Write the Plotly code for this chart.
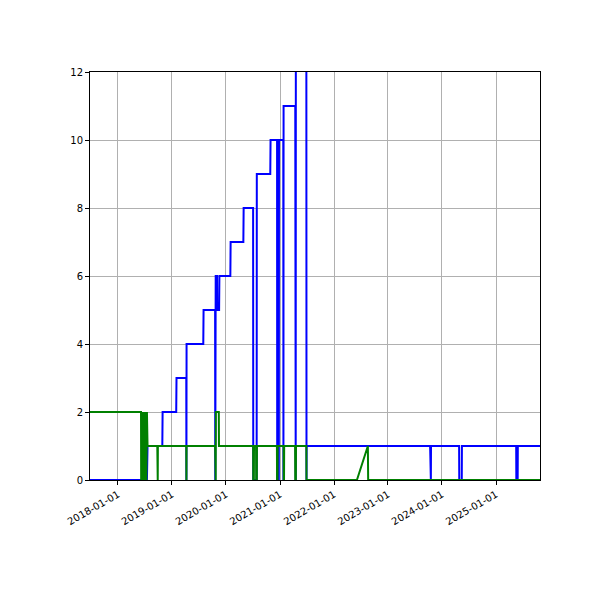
import plotly.graph_objects as go

blue_dates = ["2017-06-26","2018-07-16","2018-07-20","2018-10-28","2018-10-30","2019-01-30","2019-02-01",
 "2019-04-08","2019-04-09","2019-04-10","2019-08-01","2019-08-03","2019-10-20","2019-10-21","2019-10-24",
 "2019-11-02","2019-11-03","2019-11-16","2019-11-18","2020-01-31","2020-02-02","2020-04-28","2020-04-30",
 "2020-07-03","2020-07-04","2020-07-27","2020-07-28","2020-10-27","2020-10-29","2020-12-12","2020-12-13",
 "2020-12-24","2020-12-25","2021-01-23","2021-01-24","2021-01-25","2021-04-14","2021-04-15","2021-04-17",
 "2021-04-18","2021-06-28","2021-06-29","2021-06-30","2023-10-13","2023-10-14","2023-10-18","2023-10-19",
 "2024-04-26","2024-04-27","2024-05-14","2024-05-15","2025-05-17","2025-05-18","2025-05-27","2025-05-28","2025-10-25"]
blue_vals = [0,0,1,1,2,2,3,
 3,0,4,4,5,5,0,6,
 6,5,5,6,6,7,7,8,
 8,0,0,9,9,10,10,0,
 0,10,10,0,11,11,0,0,
 13,13,0,1,1,0,0,1,
 1,0,0,1,1,0,0,1,1]

green_dates = ["2017-06-26","2018-06-06","2018-06-07","2018-06-10","2018-06-12","2018-06-16","2018-06-18",
 "2018-06-22","2018-06-24","2018-06-28","2018-06-30","2018-07-04","2018-07-06","2018-07-10","2018-07-12",
 "2018-07-16","2018-07-20","2018-09-24","2018-09-25","2018-09-27","2018-09-28","2019-04-08","2019-04-09",
 "2019-04-10","2019-10-20","2019-10-21","2019-10-24","2019-10-25","2019-11-14","2019-11-15","2020-07-03",
 "2020-07-04","2020-07-08","2020-07-09","2020-07-23","2020-07-24","2020-07-28","2020-07-29","2020-12-11",
 "2020-12-12","2020-12-15","2020-12-16","2021-01-25","2021-01-26","2021-01-28","2021-01-29","2021-04-13",
 "2021-04-14","2021-04-18","2021-04-19","2021-06-28","2021-06-29","2022-06-05","2022-08-18","2022-08-20","2025-10-25"]
green_vals = [2,2,0,2,0,2,0,
 2,0,2,0,2,0,2,0,
 2,1,1,0,0,1,1,0,
 1,1,0,0,2,2,1,1,
 0,0,1,1,0,0,1,1,
 0,0,1,1,0,0,1,1,
 0,0,1,1,0,0,1,0,0]

fig = go.Figure()
fig.add_trace(go.Scatter(x=blue_dates, y=blue_vals, mode="lines", line=dict(color="#0000ff", width=2), showlegend=False))
fig.add_trace(go.Scatter(x=green_dates, y=green_vals, mode="lines", line=dict(color="#008000", width=2), showlegend=False))

axis_common = dict(showline=True, linecolor="black", linewidth=1, mirror=True, showgrid=True,
                   gridcolor="#b0b0b0", gridwidth=1, ticks="outside", ticklen=4, tickcolor="black",
                   zeroline=False, tickfont=dict(family="DejaVu Sans", size=10, color="black"))
fig.update_xaxes(range=["2017-06-26", "2025-10-25"], tickvals=[f"{y}-01-01" for y in range(2018, 2026)],
                 ticktext=[f"{y}-01-01" for y in range(2018, 2026)], tickangle=-30, **axis_common)
fig.update_yaxes(range=[0, 12], tickvals=[0, 2, 4, 6, 8, 10, 12], **axis_common)
fig.update_layout(width=600, height=600, margin=dict(l=82, r=68, t=64, b=128),
                  plot_bgcolor="white", paper_bgcolor="white")
fig.write_html("out.html")
